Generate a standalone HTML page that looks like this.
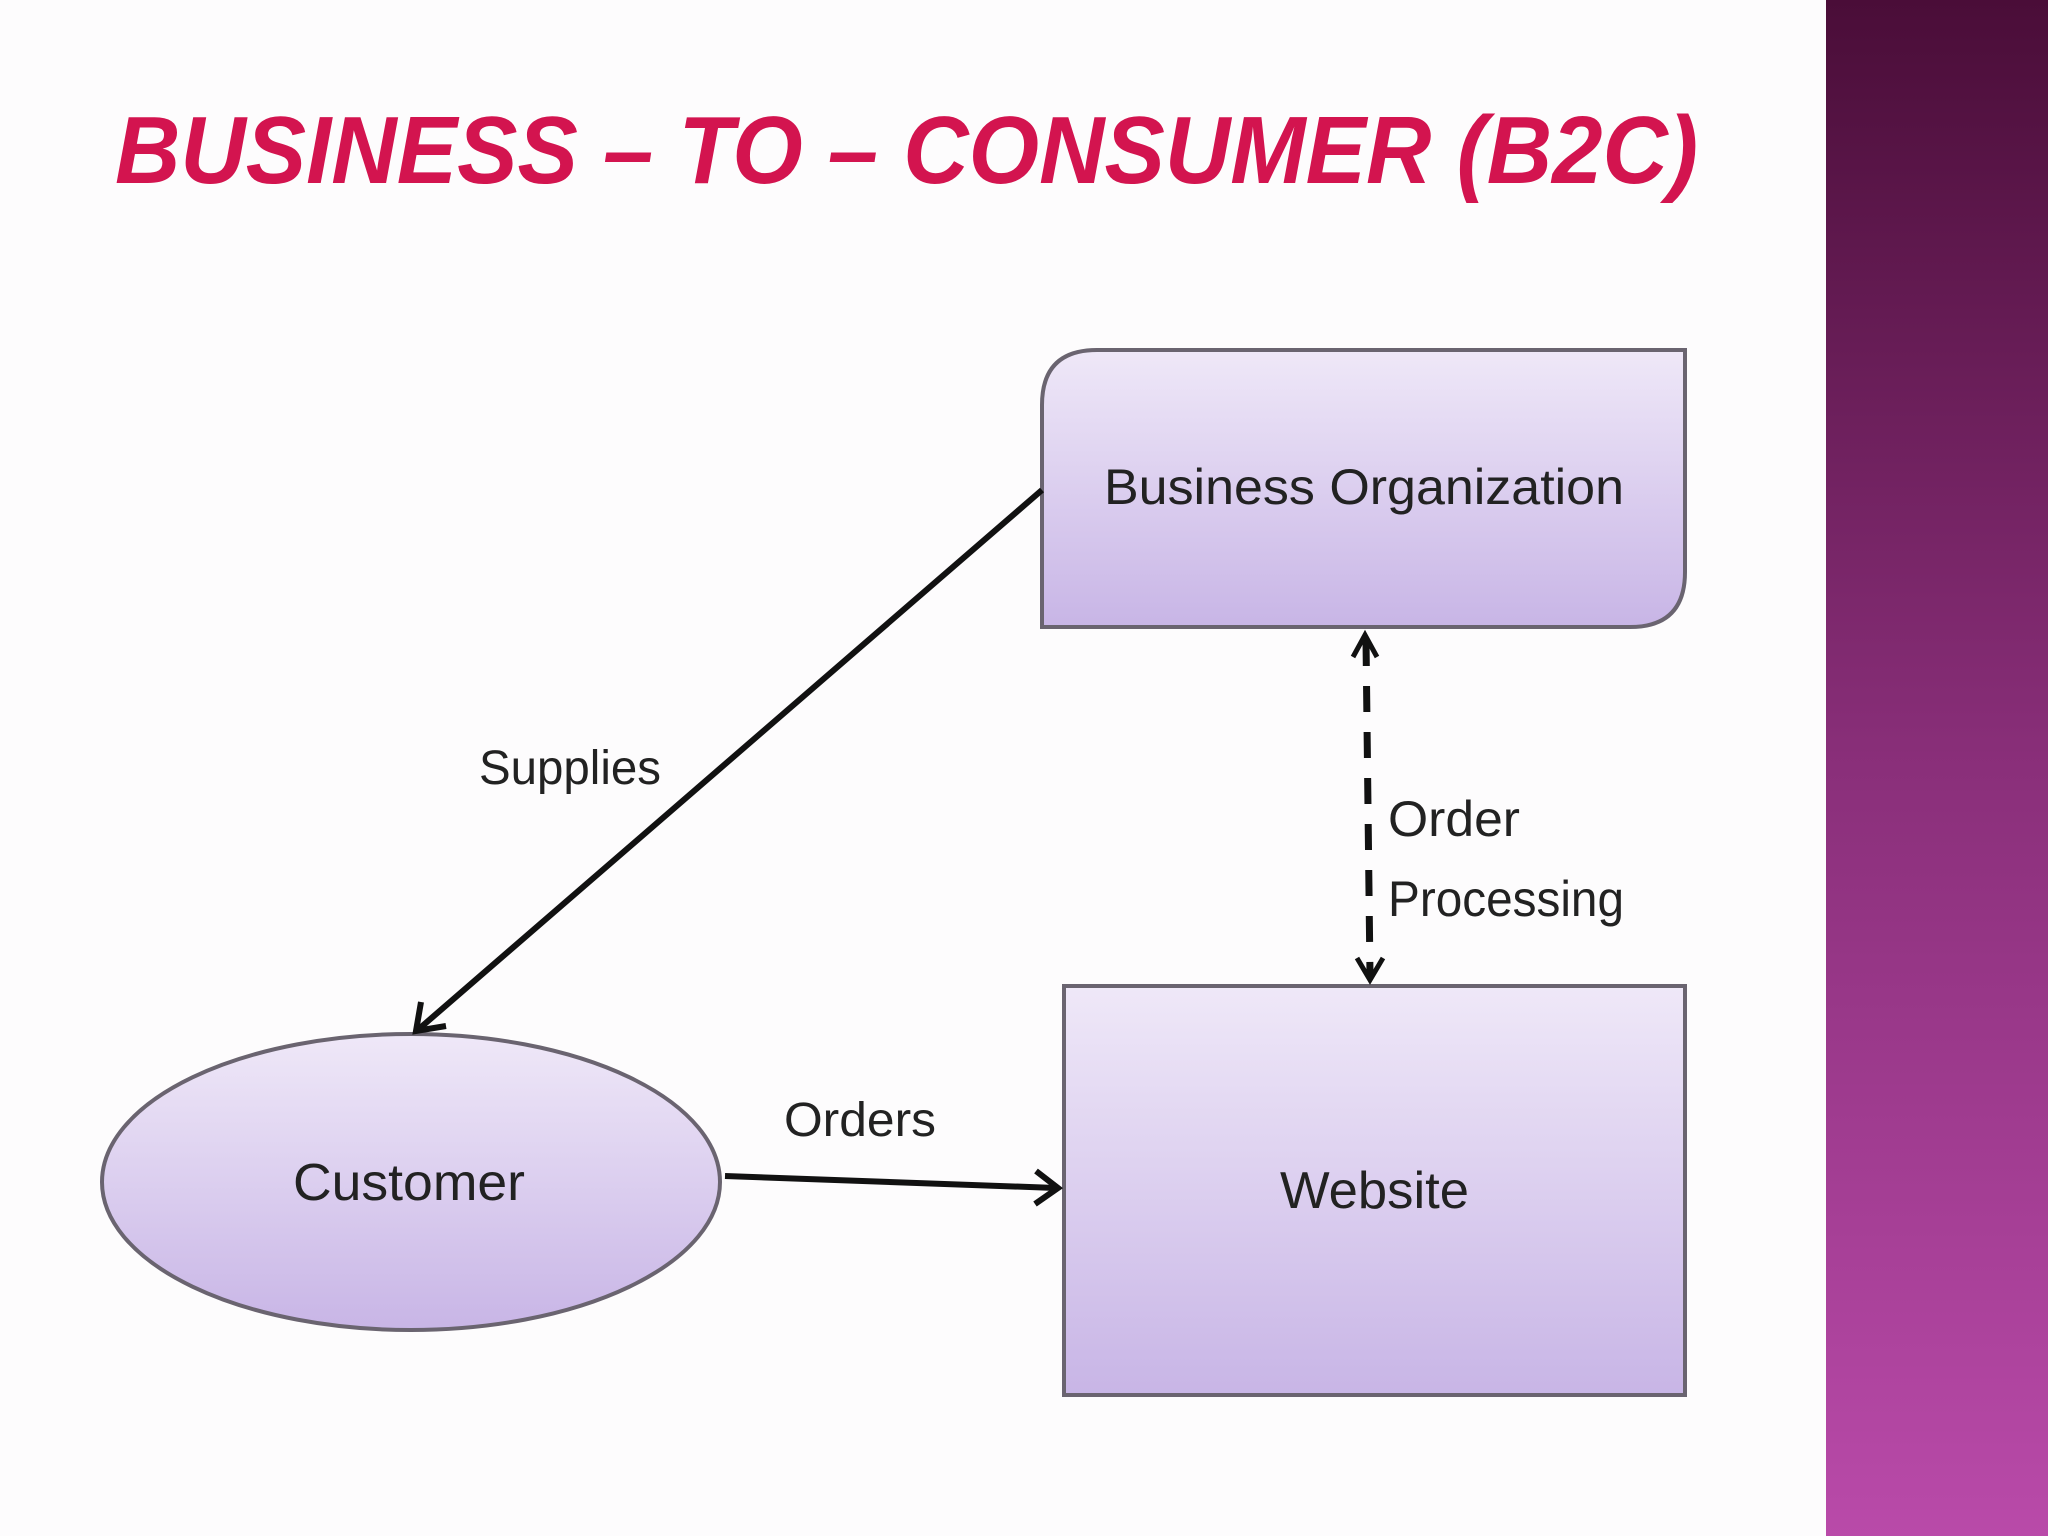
<!DOCTYPE html>
<html><head><meta charset="utf-8"><style>html,body{margin:0;padding:0;background:#fff}svg{display:block}</style></head>
<body>
<svg width="2048" height="1536" viewBox="0 0 2048 1536" xmlns="http://www.w3.org/2000/svg">
<defs>
<linearGradient id="bar" x1="0" y1="0" x2="0" y2="1">
<stop offset="0" stop-color="#4a0d38"/><stop offset="0.5" stop-color="#8a2f7a"/><stop offset="1" stop-color="#b94aa9"/>
</linearGradient>
<linearGradient id="box" x1="0" y1="0" x2="0" y2="1">
<stop offset="0" stop-color="#efe8f8"/><stop offset="1" stop-color="#c8b5e6"/>
</linearGradient>
</defs>
<rect width="2048" height="1536" fill="#fdfcfd"/>
<rect x="1826" y="0" width="222" height="1536" fill="url(#bar)"/>
<text x="115" y="183" font-family="Liberation Sans, sans-serif" font-weight="bold" font-style="italic" font-size="96" fill="#d3144f" textLength="1583" lengthAdjust="spacingAndGlyphs">BUSINESS – TO – CONSUMER (B2C)</text>

<path d="M1097,350 L1685,350 L1685,572 Q1685,627 1630,627 L1042,627 L1042,405 Q1042,350 1097,350 Z" fill="url(#box)" stroke="#6a6470" stroke-width="4"/>
<text x="1104" y="504" font-family="Liberation Sans, sans-serif" font-size="50" fill="#222" textLength="520" lengthAdjust="spacingAndGlyphs">Business Organization</text>

<rect x="1064" y="986" width="621" height="409" fill="url(#box)" stroke="#6a6470" stroke-width="4"/>
<text x="1280" y="1208" font-family="Liberation Sans, sans-serif" font-size="52" fill="#222" textLength="189" lengthAdjust="spacingAndGlyphs">Website</text>

<ellipse cx="411" cy="1182" rx="309" ry="148" fill="url(#box)" stroke="#6a6470" stroke-width="4"/>
<text x="293" y="1200" font-family="Liberation Sans, sans-serif" font-size="52" fill="#222" textLength="232" lengthAdjust="spacingAndGlyphs">Customer</text>

<line x1="1042" y1="490" x2="420" y2="1028" stroke="#111" stroke-width="6"/>
<polyline points="421,1002 416,1031 446,1026" fill="none" stroke="#111" stroke-width="6"/>
<text x="479" y="784" font-family="Liberation Sans, sans-serif" font-size="48" fill="#222" textLength="182" lengthAdjust="spacingAndGlyphs">Supplies</text>

<line x1="725" y1="1176" x2="1056" y2="1188" stroke="#111" stroke-width="6"/>
<polyline points="1036,1171 1058,1188 1035,1204" fill="none" stroke="#111" stroke-width="6"/>
<text x="784" y="1136" font-family="Liberation Sans, sans-serif" font-size="48" fill="#222" textLength="152" lengthAdjust="spacingAndGlyphs">Orders</text>

<line x1="1366" y1="640" x2="1370" y2="975" stroke="#111" stroke-width="7" stroke-dasharray="26,20"/>
<polyline points="1353,657 1365,635 1377,657" fill="none" stroke="#111" stroke-width="5"/>
<polyline points="1357,958 1370,980 1383,958" fill="none" stroke="#111" stroke-width="5"/>
<text x="1388" y="836" font-family="Liberation Sans, sans-serif" font-size="50" fill="#222" textLength="132" lengthAdjust="spacingAndGlyphs">Order</text>
<text x="1388" y="916" font-family="Liberation Sans, sans-serif" font-size="50" fill="#222" textLength="236" lengthAdjust="spacingAndGlyphs">Processing</text>
</svg>
</body></html>
